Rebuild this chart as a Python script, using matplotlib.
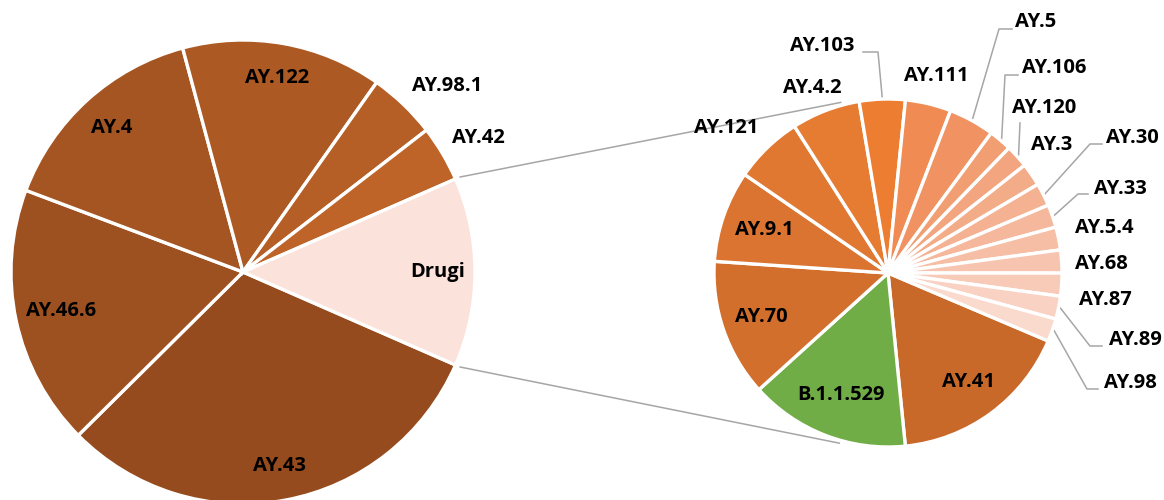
import numpy as np
import matplotlib.pyplot as plt

# left pie: main lineages, "Drugi" = all the rest (shown in the right pie)
left_labels = ['AY.43', 'AY.46.6', 'AY.4', 'AY.122', 'AY.98.1', 'AY.42', 'Drugi']
left_counts = [111, 65, 54, 50, 17, 14, 47]
left_colors = ['#954B1D', '#9D5020', '#A55521', '#AD5923', '#B55E25', '#BE6428', '#FBE2DA']

# right pie: breakdown of "Drugi"
right_labels = ['AY.41', 'B.1.1.529', 'AY.70', 'AY.9.1', 'AY.121', 'AY.4.2', 'AY.103',
                'AY.111', 'AY.5', 'AY.106', 'AY.120', 'AY.3', 'AY.30', 'AY.33',
                'AY.5.4', 'AY.68', 'AY.87', 'AY.89', 'AY.98']
right_counts = [8, 7, 6, 4, 3, 3, 2, 2, 2, 1, 1, 1, 1, 1, 1, 1, 1, 1, 1]
right_colors = ['#C8692A', '#70AD47', '#D26F2D', '#DA7430', '#E07832', '#E67B32', '#ED7D31',
                '#EF8B53', '#F09262', '#F19E72', '#F2A57F', '#F3AC88', '#F4B293', '#F5B89C',
                '#F6BEA5', '#F7C5AF', '#F8CBB9', '#F9D2C3', '#FADACD']

W, H = 1164, 500
plt.rcParams['font.family'] = ['Open Sans', 'DejaVu Sans']

fig = plt.figure(figsize=(W / 100, H / 100), dpi=100)
ax = fig.add_axes([0, 0, 1, 1])

# geometry in pixels (y up)
L_C, L_R = (243, H - 272), 232
R_C, R_R = (888, H - 273), 174
wprops = dict(edgecolor='white', linewidth=2.4)

wl, _ = ax.pie(left_counts, colors=left_colors, counterclock=False,
               startangle=-180 * left_counts[-1] / sum(left_counts),
               center=L_C, radius=L_R, wedgeprops=wprops, frame=True)
wr, _ = ax.pie(right_counts, colors=right_colors, counterclock=False, startangle=-23,
               center=R_C, radius=R_R, wedgeprops=wprops, frame=True)

ax.set_xlim(0, W)
ax.set_ylim(0, H)
ax.set_aspect('equal')
ax.axis('off')

grey = '#A6A6A6'

# connector lines between the two pies
dr = wl[-1]
for a_left, a_right in [(dr.theta2, 105.5), (dr.theta1, -106)]:
    x0 = L_C[0] + (L_R + 5) * np.cos(np.radians(a_left))
    y0 = L_C[1] + (L_R + 5) * np.sin(np.radians(a_left))
    x1 = R_C[0] + (R_R + 3) * np.cos(np.radians(a_right))
    y1 = R_C[1] + (R_R + 3) * np.sin(np.radians(a_right))
    ax.plot([x0, x1], [y0, y1], color=grey, lw=1.1, zorder=0)

# label placement: float = fraction of radius along mid angle, tuple = image px centre
left_pos = {'AY.43': 0.85, 'AY.46.6': 0.80, 'AY.4': 0.84, 'AY.122': 0.85,
            'AY.98.1': (447, 86), 'AY.42': (478, 138), 'Drugi': 0.84}
right_pos = {'AY.41': 0.78, 'B.1.1.529': 0.75, 'AY.70': 0.77, 'AY.9.1': 0.75,
             'AY.121': (726, 128), 'AY.4.2': (812, 88), 'AY.103': (822, 46),
             'AY.111': (936, 76), 'AY.5': (1036, 22), 'AY.106': (1054, 68),
             'AY.120': (1044, 108), 'AY.3': (1052, 145), 'AY.30': (1132, 138),
             'AY.33': (1120, 189), 'AY.5.4': (1104, 228), 'AY.68': (1101, 264),
             'AY.87': (1105, 300), 'AY.89': (1135, 340), 'AY.98': (1130, 383)}
# leader lines: elbow and end point (image px)
leaders = {'AY.103': [(878, 52), (863, 52)], 'AY.5': [(999, 29), (1012, 29)],
           'AY.106': [(1005, 75), (1018, 75)], 'AY.120': [(1020, 123)],
           'AY.30': [(1090, 144), (1102, 144)], 'AY.33': [(1078, 194), (1088, 194)],
           'AY.89': [(1090, 346), (1102, 346)], 'AY.98': [(1087, 389), (1098, 389)]}

txt = dict(fontsize=14.5, fontweight='bold', color='black', ha='center', va='center')


def put_labels(wedges, labels, pos, c, r):
    for w, lab in zip(wedges, labels):
        mid = np.radians((w.theta1 + w.theta2) / 2)
        p = pos[lab]
        if isinstance(p, tuple):
            x, y = p[0], H - p[1]
        else:
            x = c[0] + p * r * np.cos(mid)
            y = c[1] + p * r * np.sin(mid)
        ax.text(x, y, lab, **txt)
        if lab in leaders:
            xs = [c[0] + (r + 2) * np.cos(mid)]
            ys = [c[1] + (r + 2) * np.sin(mid)]
            for px, py in leaders[lab]:
                xs.append(px)
                ys.append(H - py)
            ax.plot(xs, ys, color=grey, lw=1.1, zorder=0)


put_labels(wl, left_labels, left_pos, L_C, L_R)
put_labels(wr, right_labels, right_pos, R_C, R_R)

fig.savefig('out.png', dpi=100)
